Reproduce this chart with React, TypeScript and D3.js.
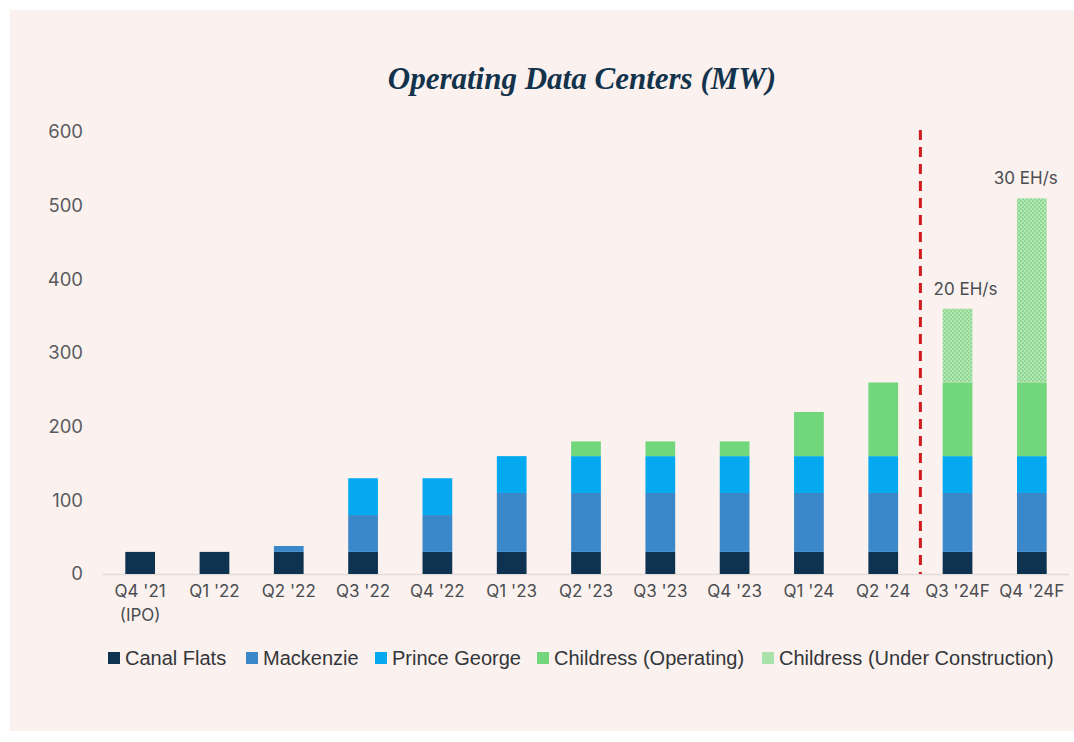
import React from "react";
import * as d3 from "d3";

const quarters = ["Q4 '21", "Q1 '22", "Q2 '22", "Q3 '22", "Q4 '22", "Q1 '23", "Q2 '23", "Q3 '23", "Q4 '23", "Q1 '24", "Q2 '24", "Q3 '24F", "Q4 '24F"];
const subLabels = ["(IPO)", "", "", "", "", "", "", "", "", "", "", "", ""];

const canalFlats = [30, 30, 30, 30, 30, 30, 30, 30, 30, 30, 30, 30, 30];
const mackenzie = [0, 0, 8, 50, 50, 80, 80, 80, 80, 80, 80, 80, 80];
const princeGeorge = [0, 0, 0, 50, 50, 50, 50, 50, 50, 50, 50, 50, 50];
const childressOp = [0, 0, 0, 0, 0, 0, 20, 20, 20, 60, 100, 100, 100];
const childressUC = [0, 0, 0, 0, 0, 0, 0, 0, 0, 0, 0, 100, 250];

const yTicks = [0, 100, 200, 300, 400, 500, 600];

const annotations = [
  { quarter: "Q3 '24F", label: "20 EH/s", shift: 8 },
  { quarter: "Q4 '24F", label: "30 EH/s", shift: -6 },
];

const seriesKeys = ["canalFlats", "mackenzie", "princeGeorge", "childressOp", "childressUC"] as const;
const seriesNames = ["Canal Flats", "Mackenzie", "Prince George", "Childress (Operating)", "Childress (Under Construction)"];
const colors = ["#0d3351", "#3a88c9", "#04a9ef", "#72d67d", "url(#hatch)"];
const legendColors = ["#0d3351", "#3a88c9", "#04a9ef", "#72d67d", "#a9e2aa"];

const width = 1074;
const height = 742;
const sans = "Inter, 'Noto Sans', sans-serif";

export default function App() {
  const rows = quarters.map((q, i) => ({
    quarter: q,
    canalFlats: canalFlats[i],
    mackenzie: mackenzie[i],
    princeGeorge: princeGeorge[i],
    childressOp: childressOp[i],
    childressUC: childressUC[i],
  }));

  const stacked = d3.stack<any>().keys(seriesKeys as any)(rows);

  const x = d3.scaleBand().domain(quarters).range([103, 1069]).paddingInner(0.6).paddingOuter(0.3);
  const y = d3.scaleLinear().domain([0, 600]).range([574, 132]);

  const dividerX = ((x("Q2 '24") || 0) + x.bandwidth() + (x("Q3 '24F") || 0)) / 2;

  const totals = rows.map((r) => seriesKeys.reduce((s, k) => s + (r as any)[k], 0));

  const legendX = [108, 246, 375, 537, 762];

  return (
    <svg width={width} height={height} style={{ position: "absolute", left: 0, top: 0 }}>
      <defs>
        <pattern id="hatch" width="4" height="4" patternUnits="userSpaceOnUse">
          <rect width="4" height="4" fill="#b3e6b3" />
          <circle cx="1" cy="1" r="0.9" fill="#7dd385" />
          <circle cx="3" cy="3" r="0.9" fill="#7dd385" />
        </pattern>
      </defs>
      <rect x={0} y={0} width={width} height={height} fill="#ffffff" />
      <rect x={10} y={10} width={1064} height={721} fill="#fbf1ee" />

      <text
        x={582}
        y={89}
        textAnchor="middle"
        fontFamily="'Liberation Serif', serif"
        fontStyle="italic"
        fontWeight="bold"
        fontSize={31}
        fill="#13334d"
      >
        Operating Data Centers (MW)
      </text>

      {/* y axis labels */}
      {yTicks.map((t) => (
        <text key={t} x={83} y={y(t)} dy="0.35em" textAnchor="end" fontFamily={sans} fontSize={18.5} fill="#595b60">
          {t}
        </text>
      ))}

      {/* baseline */}
      <line x1={103} x2={1069} y1={y(0) + 0.5} y2={y(0) + 0.5} stroke="#e2dcd9" strokeWidth={1.5} />

      {/* bars */}
      {stacked.map((layer, si) => (
        <g key={layer.key} fill={colors[si]}>
          {layer.map((d, i) =>
            d[1] - d[0] > 0 ? (
              <rect
                key={i}
                x={x(quarters[i])}
                y={y(d[1])}
                width={x.bandwidth()}
                height={y(d[0]) - y(d[1])}
              />
            ) : null
          )}
        </g>
      ))}

      {/* divider */}
      <line x1={dividerX} x2={dividerX} y1={130} y2={574} stroke="#d01c1f" strokeWidth={3} strokeDasharray="10,7" />

      {/* annotations */}
      {annotations.map((a) => {
        const i = quarters.indexOf(a.quarter);
        return (
          <text
            key={a.label}
            x={(x(a.quarter) || 0) + x.bandwidth() / 2 + a.shift}
            y={y(totals[i]) - 14}
            textAnchor="middle"
            fontFamily={sans}
            fontSize={17}
            fill="#4a4d52"
          >
            {a.label}
          </text>
        );
      })}

      {/* x labels */}
      {quarters.map((q, i) => (
        <g key={q} fontFamily={sans} fontSize={17} fill="#4a4d52" textAnchor="middle">
          <text x={(x(q) || 0) + x.bandwidth() / 2} y={597}>
            {q}
          </text>
          {subLabels[i] && (
            <text x={(x(q) || 0) + x.bandwidth() / 2} y={621}>
              {subLabels[i]}
            </text>
          )}
        </g>
      ))}

      {/* legend */}
      {seriesNames.map((n, i) => (
        <g key={n} transform={`translate(${legendX[i]}, 658)`}>
          <rect x={0} y={-6} width={12} height={12} fill={legendColors[i]} />
          <text x={17} y={0} dy="0.35em" fontFamily="'Liberation Sans Narrow', 'Liberation Sans', sans-serif" fontSize={20} fill="#33363a">
            {n}
          </text>
        </g>
      ))}
    </svg>
  );
}
